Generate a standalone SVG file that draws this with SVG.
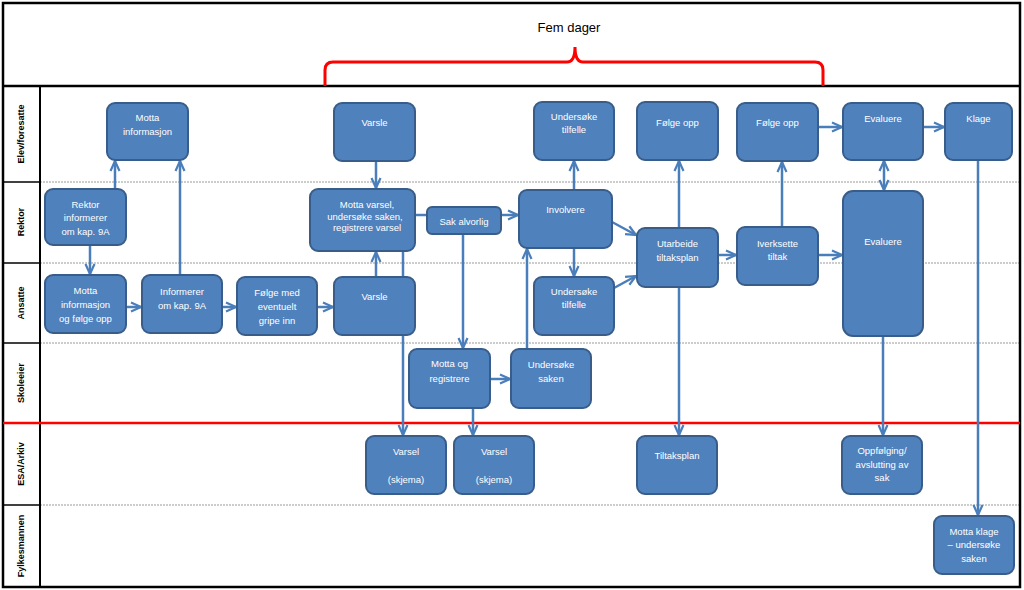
<svg xmlns="http://www.w3.org/2000/svg" width="1024" height="590" viewBox="0 0 1024 590">
<defs>
<style>
.n{fill:#4F81BD;stroke:#385D8A;stroke-width:2}
.t{font-family:"Liberation Sans",Arial,sans-serif;font-size:9.5px;fill:#ffffff;text-anchor:middle}
.c{fill:none;stroke:#4A7EBB;stroke-width:2.5}
.a{marker-end:url(#ah)}
.lane{font-family:"Liberation Sans",Arial,sans-serif;font-size:9px;font-weight:bold;fill:#000;text-anchor:middle}
.sep{stroke:#999;stroke-width:1;stroke-dasharray:2,1}
</style>
<marker id="ah" viewBox="0 0 12 12" refX="11" refY="6" markerWidth="12" markerHeight="12" markerUnits="userSpaceOnUse" orient="auto">
<path d="M1,1.5 L11,6 L1,10.5" fill="none" stroke="#4A7EBB" stroke-width="2.2"/>
</marker>
<marker id="as" viewBox="0 0 12 12" refX="11" refY="6" markerWidth="12" markerHeight="12" markerUnits="userSpaceOnUse" orient="auto-start-reverse">
<path d="M1,1.5 L11,6 L1,10.5" fill="none" stroke="#4A7EBB" stroke-width="2.2"/>
</marker>
</defs>
<rect x="0" y="0" width="1024" height="590" fill="#ffffff"/>
<g id="frame">
<line class="sep" x1="40" y1="182" x2="1020" y2="182"/>
<line class="sep" x1="40" y1="263" x2="1020" y2="263"/>
<line class="sep" x1="40" y1="343" x2="1020" y2="343"/>
<line class="sep" x1="40" y1="505" x2="1020" y2="505"/>
<line x1="3" y1="182" x2="40" y2="182" stroke="#000" stroke-width="1.5"/>
<line x1="3" y1="263" x2="40" y2="263" stroke="#000" stroke-width="1.5"/>
<line x1="3" y1="343" x2="40" y2="343" stroke="#000" stroke-width="1.5"/>
<line x1="3" y1="505" x2="40" y2="505" stroke="#000" stroke-width="1.5"/>
<line x1="40" y1="86" x2="40" y2="587" stroke="#000" stroke-width="2"/>
<line x1="3" y1="86" x2="1020" y2="86" stroke="#000" stroke-width="2.5"/>
<rect x="3" y="3" width="1017" height="584" fill="none" stroke="#000" stroke-width="2.5"/>
<line x1="3" y1="423" x2="1020" y2="423" stroke="#FF0000" stroke-width="2.5"/>
<path d="M325,86 L325,70 Q325,62 333,62 L567,62 Q575,62 575,47 Q575,62 583,62 L815,62 Q823,62 823,70 L823,86" fill="none" stroke="#FF0000" stroke-width="3"/>
<text x="569" y="32" font-family="'Liberation Sans',Arial,sans-serif" font-size="13px" fill="#000" text-anchor="middle">Fem dager</text>
<text class="lane" transform="translate(24,134) rotate(-90)">Elev/foresatte</text>
<text class="lane" transform="translate(24,222) rotate(-90)">Rektor</text>
<text class="lane" transform="translate(24,303) rotate(-90)">Ansatte</text>
<text class="lane" transform="translate(24,383) rotate(-90)">Skoleeier</text>
<text class="lane" transform="translate(24,464) rotate(-90)">ESA/Arkiv</text>
<text class="lane" transform="translate(24,546) rotate(-90)">Fylkesmannen</text>
</g>
<g id="connectors">
<line class="c a" x1="115" y1="189" x2="115" y2="161"/>
<line class="c a" x1="90" y1="245" x2="90" y2="274"/>
<line class="c a" x1="180" y1="275" x2="180" y2="161"/>
<line class="c a" x1="126" y1="307" x2="141" y2="307"/>
<line class="c a" x1="222" y1="307" x2="236" y2="307"/>
<line class="c a" x1="317" y1="307" x2="333" y2="307"/>
<line class="c a" x1="376" y1="161" x2="376" y2="188"/>
<line class="c a" x1="376" y1="277" x2="376" y2="252"/>
<line class="c" x1="415" y1="215" x2="427" y2="215"/>
<line class="c a" x1="501" y1="215" x2="518" y2="215"/>
<line class="c a" x1="403" y1="251" x2="403" y2="435"/>
<line class="c a" x1="463" y1="234" x2="463" y2="348"/>
<line class="c a" x1="473" y1="408" x2="473" y2="435"/>
<line class="c a" x1="490" y1="379" x2="510" y2="379"/>
<line class="c a" x1="527" y1="349" x2="527" y2="249"/>
<line class="c a" x1="574" y1="190" x2="574" y2="161"/>
<line class="c a" x1="574" y1="248" x2="574" y2="276"/>
<line class="c a" x1="612" y1="222" x2="636" y2="235"/>
<line class="c a" x1="614" y1="288" x2="636" y2="276"/>
<line class="c a" x1="679" y1="228" x2="679" y2="161"/>
<line class="c a" x1="679" y1="287" x2="679" y2="435"/>
<line class="c a" x1="718" y1="255" x2="736" y2="255"/>
<line class="c a" x1="782" y1="227" x2="782" y2="162"/>
<line class="c a" x1="818" y1="255" x2="842" y2="255"/>
<line class="c a" x1="818" y1="127" x2="842" y2="127"/>
<line class="c a" x1="923" y1="127" x2="944" y2="127"/>
<line class="c a" x1="884" y1="161" x2="884" y2="190" marker-start="url(#as)"/>
<line class="c a" x1="883" y1="336" x2="883" y2="435"/>
<line class="c a" x1="978" y1="160" x2="978" y2="515"/>
</g>
<g id="n_motta_info"><rect class="n" x="107" y="103" width="81" height="57" rx="8"/><text class="t" x="147.5" y="121">Motta</text><text class="t" x="147.5" y="135">informasjon</text></g>
<g id="n_rektor_inf"><rect class="n" x="45" y="189" width="81" height="56" rx="8"/><text class="t" x="85.5" y="208">Rektor</text><text class="t" x="85.5" y="221">informerer</text><text class="t" x="85.5" y="235">om kap. 9A</text></g>
<g id="n_motta_folge"><rect class="n" x="45" y="275" width="81" height="58" rx="8"/><text class="t" x="85.5" y="294">Motta</text><text class="t" x="85.5" y="308">informasjon</text><text class="t" x="85.5" y="322">og følge opp</text></g>
<g id="n_informerer"><rect class="n" x="142" y="275" width="80" height="58" rx="8"/><text class="t" x="182" y="295">Informerer</text><text class="t" x="182" y="309">om kap. 9A</text></g>
<g id="n_folge_med"><rect class="n" x="237" y="277" width="80" height="58" rx="8"/><text class="t" x="277" y="296">Følge med</text><text class="t" x="277" y="310">eventuelt</text><text class="t" x="277" y="324">gripe inn</text></g>
<g id="n_varsle_top"><rect class="n" x="334" y="103" width="81" height="58" rx="8"/><text class="t" x="374.5" y="126">Varsle</text></g>
<g id="n_motta_varsel"><rect class="n" x="310" y="189" width="105" height="62" rx="8"/><text class="t" x="367" y="208">Motta varsel,</text><text class="t" x="365" y="220">undersøke saken,</text><text class="t" x="367" y="231">registrere varsel</text></g>
<g id="n_varsle_ans"><rect class="n" x="334" y="277" width="81" height="58" rx="8"/><text class="t" x="374.5" y="300">Varsle</text></g>
<g id="n_sak_alvorlig"><rect class="n" x="427" y="207" width="74" height="27" rx="5"/><text class="t" x="464" y="225">Sak alvorlig</text></g>
<g id="n_involvere"><rect class="n" x="519" y="190" width="93" height="58" rx="8"/><text class="t" x="565.5" y="213">Involvere</text></g>
<g id="n_undersoke_top"><rect class="n" x="534" y="102" width="80" height="58" rx="8"/><text class="t" x="574" y="120">Undersøke</text><text class="t" x="574" y="133">tilfelle</text></g>
<g id="n_undersoke_ans"><rect class="n" x="534" y="277" width="80" height="58" rx="8"/><text class="t" x="574" y="295">Undersøke</text><text class="t" x="574" y="308">tilfelle</text></g>
<g id="n_motta_reg"><rect class="n" x="409" y="349" width="81" height="59" rx="8"/><text class="t" x="449.5" y="367">Motta og</text><text class="t" x="449.5" y="382">registrere</text></g>
<g id="n_undersoke_saken"><rect class="n" x="511" y="349" width="80" height="59" rx="8"/><text class="t" x="551" y="368">Undersøke</text><text class="t" x="551" y="382">saken</text></g>
<g id="n_varsel1"><rect class="n" x="366" y="436" width="80" height="58" rx="8"/><text class="t" x="406" y="455">Varsel</text><text class="t" x="406" y="483">(skjema)</text></g>
<g id="n_varsel2"><rect class="n" x="454" y="436" width="80" height="58" rx="8"/><text class="t" x="494" y="455">Varsel</text><text class="t" x="494" y="483">(skjema)</text></g>
<g id="n_folge_opp1"><rect class="n" x="637" y="102" width="81" height="58" rx="8"/><text class="t" x="677.5" y="126">Følge opp</text></g>
<g id="n_utarbeide"><rect class="n" x="637" y="228" width="81" height="59" rx="8"/><text class="t" x="677.5" y="247">Utarbeide</text><text class="t" x="677.5" y="261">tiltaksplan</text></g>
<g id="n_tiltaksplan"><rect class="n" x="637" y="436" width="80" height="58" rx="8"/><text class="t" x="677" y="459">Tiltaksplan</text></g>
<g id="n_folge_opp2"><rect class="n" x="737" y="103" width="81" height="58" rx="8"/><text class="t" x="777.5" y="126">Følge opp</text></g>
<g id="n_iverksette"><rect class="n" x="737" y="227" width="81" height="58" rx="8"/><text class="t" x="777.5" y="247">Iverksette</text><text class="t" x="777.5" y="260">tiltak</text></g>
<g id="n_evaluere_top"><rect class="n" x="843" y="103" width="80" height="57" rx="8"/><text class="t" x="883" y="122">Evaluere</text></g>
<g id="n_evaluere_big"><rect class="n" x="843" y="191" width="80" height="145" rx="10"/><text class="t" x="883" y="245">Evaluere</text></g>
<g id="n_oppfolging"><rect class="n" x="842" y="436" width="80" height="58" rx="8"/><text class="t" x="882" y="454">Oppfølging/</text><text class="t" x="882" y="468">avslutting av</text><text class="t" x="882" y="481">sak</text></g>
<g id="n_klage"><rect class="n" x="945" y="103" width="67" height="57" rx="8"/><text class="t" x="978.5" y="122">Klage</text></g>
<g id="n_motta_klage"><rect class="n" x="934" y="516" width="80" height="58" rx="8"/><text class="t" x="974" y="535">Motta klage</text><text class="t" x="974" y="548">– undersøke</text><text class="t" x="974" y="562">saken</text></g>
</svg>
